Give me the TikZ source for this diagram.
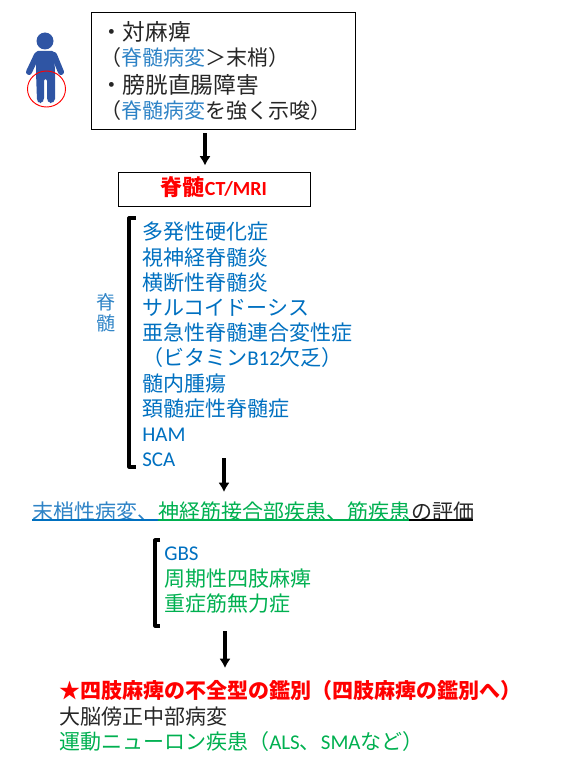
\documentclass[tikz,border=0pt]{standalone}
\usepackage{fontspec}
\usetikzlibrary{arrows.meta,positioning}
\setmainfont{Noto Sans CJK JP}
\newfontfamily\latfont{Carlito}
\definecolor{spine}{HTML}{0070C0}
\definecolor{spinelight}{HTML}{2E83C6}
\definecolor{nmj}{HTML}{00B050}
\definecolor{alert}{HTML}{FF0000}
\definecolor{bodyblue}{HTML}{2F55A4}
\newcommand{\lat}[1]{{\latfont #1}}
\newcommand{\bigline}[1]{{\fontsize{17}{18.75}\selectfont #1}}

\begin{document}
\begin{tikzpicture}[x=0.75pt,y=-0.75pt,
box/.style={draw,line width=0.7pt,inner sep=0pt},
txt/.style={inner sep=0pt,align=left,anchor=north west,
  font=\fontsize{15.75}{18.9}\selectfont},
run/.style={inner sep=0pt,font=\fontsize{15.75}{18.9}\selectfont},
brk/.style={line width=2.4pt,line join=round},
arr/.style={-{Latex[length=7pt,width=8.5pt]},line width=2.4pt}]
\useasboundingbox (0,0) rectangle (575,767);
% person
\fill[bodyblue] (45,41) circle (8.5);
\fill[bodyblue,rounded corners=1.5] (36,51) -- (54,51) -- (55,72) -- (55,101)
  -- (52,103) -- (49,103) -- (47,100) -- (47,79) -- (44,79) -- (44,100) -- (42,103)
  -- (39,103) -- (37,101) -- (36,72) -- cycle;
\draw[bodyblue,line width=4.5pt,line cap=round] (37,55) -- (29,72);
\draw[bodyblue,line width=4.5pt,line cap=round] (54,55) -- (61,72);
\draw[alert,line width=0.7pt] (46.5,89) ellipse (19 and 18);
% boxes
\node[box,minimum width=198pt,minimum height=87.75pt] (symptom) at (223,70.5) {};
\node[txt,font=\fontsize{15.75}{18.75}\selectfont,text=black!85] (symptomtext) at (100,21)
  {\bigline{・対麻痺}\\（{\color{spinelight}脊髄病変}＞末梢）\\[2.25pt]
  \bigline{・膀胱直腸障害}\\（{\color{spinelight}脊髄病変}を強く示唆）};
\node[box,minimum width=144pt,minimum height=25.5pt,text=alert,text depth=5pt,
  font=\fontsize{16.5}{18}\selectfont\bfseries] (cta) at (214,189)
  {脊髄\lat{\fontsize{15}{18}\selectfont CT/MRI}};
% lists
\node[txt,text=spine] (spinelist) at (142,222)
  {多発性硬化症\\視神経脊髄炎\\横断性脊髄炎\\サルコイドーシス\\亜急性脊髄連合変性症\\
  （ビタミン\lat{B12}欠乏）\\髄内腫瘍\\頚髄症性脊髄症\\\lat{HAM}\\\lat{SCA}};
\node[txt,text=spinelight,font=\fontsize{14.25}{15.75}\selectfont,anchor=center] (spinelabel) at (106,313)
  {脊\\髄};
\draw[brk] (136,218) -| (129,467) -- (136,467);
\node[run,text=spinelight,anchor=west] (evalperi) at (32,512) {末梢性病変、};
\node[run,text=nmj,right=0pt of evalperi] (evalnmj) {神経筋接合部疾患、筋疾患};
\node[run,right=0pt of evalnmj,text=black!85] (evalend) {の評価};
\draw[spine,line width=0.8pt] (32,520) -- (158,520);
\draw[nmj,line width=0.8pt] (158,520) -- (409,520);
\draw[black,line width=0.8pt] (409,520) -- (473,520);
\node[txt,text=nmj] (limblist) at (164,547)
  {\textcolor{spine}{\lat{GBS}}\\周期性四肢麻痺\\重症筋無力症};
\draw[brk] (160,540) -| (155,626) -- (160,626);
\node[txt,text=alert,font=\fontsize{15.75}{18.9}\selectfont\bfseries] (incomplete) at (59,680)
  {★四肢麻痺の不全型の鑑別（四肢麻痺の鑑別へ）};
\node[txt,text=black!85,below=4pt of incomplete.south west,anchor=north west] (cerebral)
  {大脳傍正中部病変};
\node[txt,text=nmj,below=4pt of cerebral.south west,anchor=north west] (motor)
  {運動ニューロン疾患（\lat{ALS}、\lat{SMA}など）};
% arrows
\coordinate (armone) at (205,133);
\coordinate (armtwo) at (224,458);
\coordinate (armthree) at (225,631);
\draw[arr,shorten <=3pt,shorten >=4.5pt] (symptom.south -| armone) -- (cta.north -| armone);
\draw[arr,shorten >=7.5pt] (armtwo) -- (evalnmj.north -| armtwo);
\draw[arr,shorten >=9pt] (armthree) -- (incomplete.north -| armthree);
\end{tikzpicture}
\end{document}
